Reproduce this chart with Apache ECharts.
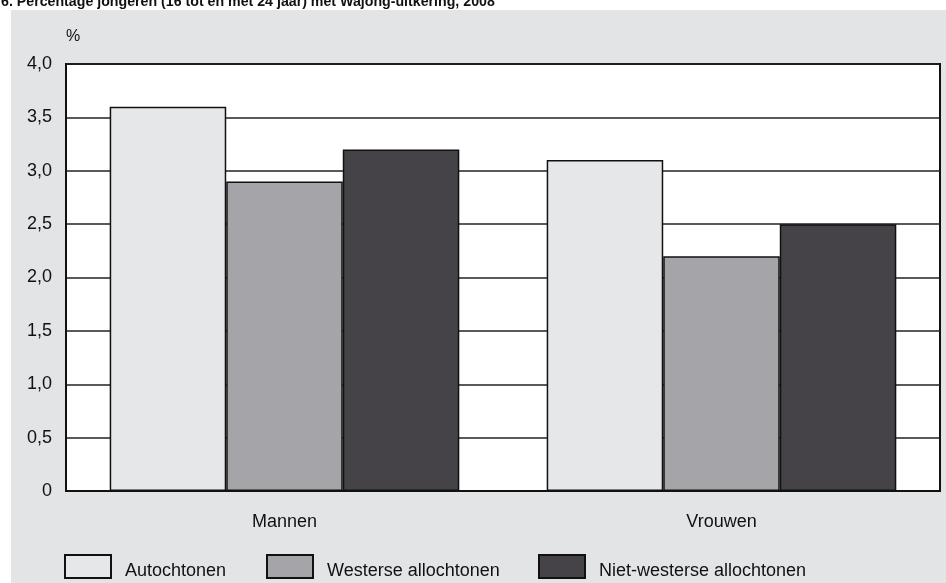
<!DOCTYPE html>
<html>
<head>
<meta charset="utf-8">
<script src="https://cdn.jsdelivr.net/npm/echarts@6/dist/echarts.min.js"></script>
<style>
    html, body { margin: 0; padding: 0; background: #fff; }
    #container { width: 946px; height: 583px; }
</style>
</head>
<body>
<div id="container"></div>
<script type="text/javascript">
    var categories = ['Mannen', 'Vrouwen'];
    var seriesNames = ['Autochtonen', 'Westerse allochtonen', 'Niet-westerse allochtonen'];
    var autochtonen = [3.6, 3.1];
    var westerse = [2.9, 2.2];
    var nietWesterse = [3.2, 2.5];
    var seriesColors = ['#e6e7e9', '#a5a4a8', '#454347'];

    var font = '"Liberation Sans", Arial, Helvetica, sans-serif';
    var values = [autochtonen, westerse, nietWesterse];

    var dom = document.getElementById('container');
    var myChart = echarts.init(dom);

    var series = [];
    for (var i = 0; i < seriesNames.length; i++) {
        series.push({
            name: seriesNames[i],
            type: 'bar',
            data: values[i],
            barGap: '0%',
            barCategoryGap: '20%',
            itemStyle: {
                color: seriesColors[i],
                borderColor: '#111',
                borderWidth: 1.5
            },
            emphasis: { disabled: true }
        });
    }

    // legend boxes sit at uneven spacing, so one legend per item
    var legendLeft = [64, 266, 538];
    var legends = [];
    for (var j = 0; j < seriesNames.length; j++) {
        legends.push({
            data: [seriesNames[j]],
            left: legendLeft[j],
            top: 554,
            padding: 0,
            icon: 'rect',
            itemWidth: 46,
            itemHeight: 23,
            selectedMode: false,
            formatter: '{t|{name}}',
            textStyle: {
                fontFamily: font,
                fontSize: 18,
                color: '#111',
                rich: {
                    t: {
                        fontFamily: font,
                        fontSize: 18,
                        color: '#111',
                        padding: [9, 0, 0, 9]
                    }
                }
            }
        });
    }

    var option = {
        animation: false,
        graphic: [{
            type: 'rect',
            z: -100,
            shape: { x: 11, y: 10, width: 935, height: 573 },
            style: { fill: '#e3e4e6' }
        }, {
            type: 'text',
            z: 10,
            left: 1,
            top: -5,
            style: {
                text: '6. Percentage jongeren (16 tot en met 24 jaar) met Wajong-uitkering, 2008',
                font: 'bold 14.2px ' + font,
                fill: '#111'
            }
        }],
        legend: legends,
        grid: {
            left: 66,
            right: 6,
            top: 64,
            bottom: 92,
            show: true,
            backgroundColor: '#fff',
            borderColor: '#111',
            borderWidth: 2
        },
        xAxis: {
            type: 'category',
            data: categories,
            axisLine: { lineStyle: { color: '#111', width: 2 } },
            axisTick: { show: false },
            axisLabel: {
                margin: 22,
                fontFamily: font,
                fontSize: 18,
                color: '#111'
            }
        },
        yAxis: {
            type: 'value',
            min: 0,
            max: 4,
            interval: 0.5,
            name: '%',
            nameLocation: 'end',
            nameGap: 19,
            nameTextStyle: {
                fontFamily: font,
                fontSize: 16,
                color: '#111',
                align: 'left'
            },
            axisLine: { show: true, lineStyle: { color: '#111', width: 2 } },
            axisTick: { show: false },
            axisLabel: {
                margin: 14,
                fontFamily: font,
                fontSize: 18,
                color: '#111',
                formatter: function (v) {
                    return v === 0 ? '0' : v.toFixed(1).replace('.', ',');
                }
            },
            splitLine: { lineStyle: { color: '#222', width: 1.5 } }
        },
        tooltip: { show: false },
        series: series
    };

    myChart.setOption(option);
</script>
</body>
</html>
